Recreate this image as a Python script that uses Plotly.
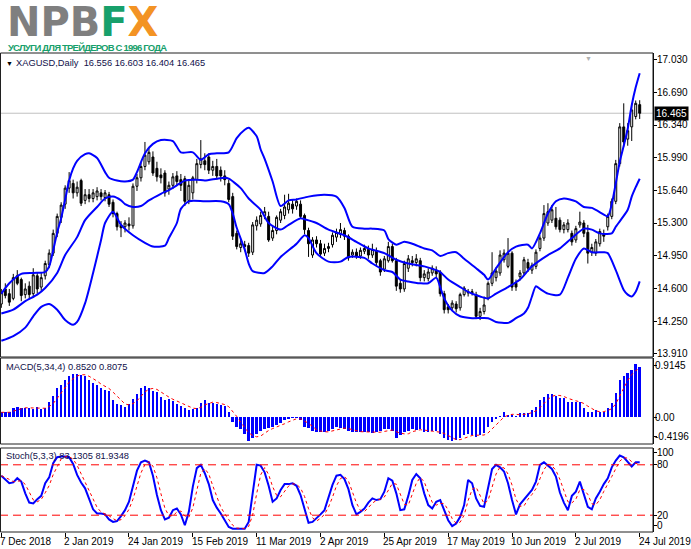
import plotly.graph_objects as go
import pandas as pd

W, H = 691, 549

# ---------------- data ----------------
tick_index = [0, 16, 32, 48, 64, 80, 96, 112, 128, 144, 160]
tick_labels = ["7 Dec 2018", "2 Jan 2019", "24 Jan 2019", "15 Feb 2019", "11 Mar 2019",
               "2 Apr 2019", "25 Apr 2019", "17 May 2019", "10 Jun 2019", "2 Jul 2019", "24 Jul 2019"]

price_ticks = [17.03, 16.69, 16.34, 15.99, 15.64, 15.30, 14.95, 14.60, 14.25, 13.91]

opens = [14.44, 14.60, 14.55, 14.50, 14.74, 14.70, 14.54, 14.63, 14.55, 14.74,
         14.62, 14.74, 14.86, 14.98, 15.19, 15.36, 15.50, 15.67, 15.72, 15.62,
         15.75, 15.54, 15.60, 15.56, 15.58, 15.62, 15.57, 15.60, 15.52, 15.40,
         15.28, 15.26, 15.29, 15.27, 15.69, 15.78, 15.90, 15.95, 16.00, 15.88,
         15.81, 15.83, 15.66, 15.70, 15.80, 15.76, 15.77, 15.54, 15.62, 15.76,
         15.92, 15.96, 16.00, 15.86, 15.90, 15.86, 15.80, 15.72, 15.58, 15.19,
         15.04, 15.07, 15.06, 14.99, 15.27, 15.29, 15.38, 15.37, 15.14, 15.22,
         15.33, 15.38, 15.44, 15.50, 15.48, 15.50, 15.38, 15.22, 14.96, 15.12,
         15.08, 14.98, 15.03, 15.07, 15.15, 15.18, 15.22, 15.16, 14.96, 14.99,
         14.95, 15.00, 15.02, 14.96, 15.00, 14.90, 14.81, 14.90, 15.05, 14.90,
         14.66, 14.60, 14.82, 14.90, 14.88, 14.90, 14.72, 14.71, 14.77, 14.80,
         14.78, 14.55, 14.41, 14.40, 14.44, 14.40, 14.54, 14.57, 14.56, 14.54,
         14.31, 14.36, 14.50, 14.66, 14.72, 14.77, 14.91, 14.84, 14.98, 14.66,
         14.73, 14.77, 14.88, 14.80, 14.84, 15.03, 15.14, 15.30, 15.33, 15.35,
         15.33, 15.23, 15.23, 15.19, 15.12, 15.28, 15.30, 15.20, 14.99, 14.98,
         15.08, 15.18, 15.26, 15.37, 15.53, 15.93, 16.32, 16.19, 16.32, 16.43,
         16.556]
highs = [14.60, 14.66, 14.60, 14.76, 14.80, 14.72, 14.66, 14.68, 14.82, 14.78,
         14.78, 14.90, 15.02, 15.23, 15.40, 15.52, 15.70, 15.84, 15.76, 15.74,
         15.77, 15.66, 15.66, 15.66, 15.68, 15.66, 15.65, 15.63, 15.55, 15.42,
         15.32, 15.33, 15.36, 15.72, 15.82, 15.94, 16.16, 16.10, 16.06, 15.95,
         15.88, 15.86, 15.74, 15.83, 15.85, 15.82, 15.80, 15.76, 15.80, 15.98,
         16.18, 16.04, 16.04, 15.96, 15.98, 15.90, 15.86, 15.76, 15.62, 15.22,
         15.12, 15.11, 15.09, 15.31, 15.37, 15.42, 15.47, 15.42, 15.26, 15.38,
         15.45, 15.60, 15.61, 15.55, 15.56, 15.54, 15.40, 15.25, 15.15, 15.16,
         15.12, 15.08, 15.09, 15.20, 15.24, 15.30, 15.25, 15.18, 15.02, 15.03,
         15.04, 15.07, 15.06, 15.08, 15.04, 14.92, 14.95, 15.10, 15.08, 14.93,
         14.70, 14.90, 14.96, 14.95, 14.97, 14.93, 14.80, 14.82, 14.85, 14.84,
         14.80, 14.58, 14.44, 14.48, 14.47, 14.56, 14.63, 14.60, 14.60, 14.57,
         14.40, 14.52, 14.68, 14.99, 14.83, 15.01, 15.02, 15.14, 15.00, 14.70,
         14.80, 14.94, 14.92, 14.88, 15.02, 15.17, 15.49, 15.51, 15.49, 15.47,
         15.36, 15.31, 15.34, 15.22, 15.27, 15.42, 15.33, 15.28, 15.08, 15.13,
         15.24, 15.23, 15.40, 15.56, 15.97, 16.36, 16.57, 16.36, 16.57, 16.60,
         16.603]
lows = [14.40, 14.50, 14.42, 14.48, 14.64, 14.47, 14.50, 14.50, 14.52, 14.55,
        14.58, 14.70, 14.82, 14.95, 15.15, 15.30, 15.45, 15.62, 15.56, 15.58,
        15.48, 15.50, 15.52, 15.52, 15.54, 15.54, 15.53, 15.47, 15.36, 15.22,
        15.15, 15.20, 15.22, 15.24, 15.64, 15.74, 15.86, 15.92, 15.80, 15.74,
        15.72, 15.58, 15.60, 15.66, 15.70, 15.64, 15.48, 15.50, 15.55, 15.72,
        15.88, 15.86, 15.82, 15.80, 15.76, 15.74, 15.70, 15.52, 15.12, 15.02,
        14.99, 15.00, 14.94, 14.96, 15.22, 15.26, 15.34, 15.10, 15.11, 15.18,
        15.30, 15.34, 15.40, 15.40, 15.44, 15.35, 15.18, 14.94, 14.93, 15.04,
        14.94, 14.95, 14.99, 15.04, 15.10, 15.14, 15.12, 14.90, 14.93, 14.92,
        14.92, 14.97, 14.92, 14.93, 14.85, 14.74, 14.78, 14.88, 14.88, 14.58,
        14.56, 14.57, 14.78, 14.84, 14.84, 14.68, 14.68, 14.68, 14.74, 14.72,
        14.52, 14.34, 14.34, 14.37, 14.35, 14.37, 14.52, 14.52, 14.53, 14.28,
        14.27, 14.33, 14.48, 14.63, 14.68, 14.74, 14.88, 14.82, 14.58, 14.58,
        14.69, 14.74, 14.78, 14.76, 14.81, 15.00, 15.11, 15.27, 15.30, 15.23,
        15.20, 15.19, 15.20, 15.06, 15.09, 15.25, 15.15, 14.87, 14.95, 14.95,
        15.05, 15.10, 15.22, 15.34, 15.50, 15.90, 16.11, 16.12, 16.17, 16.40,
        16.404]
closes = [14.56, 14.53, 14.46, 14.72, 14.66, 14.53, 14.60, 14.54, 14.75, 14.60,
          14.72, 14.87, 14.98, 15.19, 15.37, 15.49, 15.67, 15.75, 15.62, 15.68,
          15.51, 15.60, 15.56, 15.62, 15.64, 15.58, 15.62, 15.50, 15.40, 15.26,
          15.25, 15.30, 15.27, 15.69, 15.78, 15.90, 16.02, 16.05, 15.83, 15.79,
          15.78, 15.62, 15.70, 15.79, 15.74, 15.70, 15.53, 15.70, 15.78, 15.93,
          15.98, 15.92, 15.86, 15.90, 15.80, 15.80, 15.76, 15.55, 15.16, 15.05,
          15.08, 15.05, 14.98, 15.28, 15.33, 15.38, 15.42, 15.12, 15.22, 15.36,
          15.42, 15.47, 15.51, 15.45, 15.53, 15.37, 15.23, 15.08, 15.12, 15.08,
          14.97, 15.03, 15.05, 15.17, 15.20, 15.23, 15.16, 14.93, 14.99, 14.95,
          15.01, 15.03, 14.96, 15.02, 14.88, 14.78, 14.92, 15.05, 14.90, 14.63,
          14.60, 14.87, 14.92, 14.88, 14.92, 14.72, 14.76, 14.78, 14.82, 14.76,
          14.55, 14.38, 14.38, 14.45, 14.39, 14.54, 14.61, 14.56, 14.57, 14.31,
          14.36, 14.43, 14.66, 14.77, 14.79, 14.96, 14.98, 14.98, 14.62, 14.62,
          14.77, 14.91, 14.82, 14.85, 14.99, 15.14, 15.40, 15.42, 15.44, 15.26,
          15.23, 15.28, 15.30, 15.10, 15.24, 15.31, 15.19, 14.98, 15.04, 15.10,
          15.21, 15.16, 15.37, 15.53, 15.93, 16.32, 16.16, 16.28, 16.50, 16.57,
          16.465]

bb_upper_x = [0, 2, 5, 8, 11, 12, 13, 14, 15, 16, 17, 18, 19, 21, 22, 24, 26, 27, 29, 31,
              33, 34, 36, 38, 40, 43, 45, 48, 50, 52, 54, 57, 59, 61, 62, 64, 65, 66, 68, 70,
              72, 74, 77, 81, 84, 86, 88, 91, 93, 96, 97, 99, 101, 103, 106, 108, 110, 112, 114, 116,
              119, 121, 122, 124, 127, 129, 132, 133, 135, 137, 139, 141, 144, 146, 148, 151, 152, 153, 154, 155,
              156, 157, 158, 159, 160]
bb_upper = [14.55, 14.66, 14.76, 14.77, 14.78, 14.84, 15.01, 15.20, 15.35, 15.55, 15.75, 15.88, 15.96, 16.03, 16.04,
            15.99, 15.84, 15.78, 15.75, 15.74, 15.76, 15.84, 16.04, 16.14, 16.18, 16.17, 16.05, 16.05, 15.97, 16.03,
            16.04, 16.05, 16.20, 16.29, 16.31, 16.22, 16.08, 15.98, 15.74, 15.48, 15.54, 15.55, 15.58, 15.60, 15.58,
            15.46, 15.26, 15.24, 15.24, 15.22, 15.13, 15.07, 15.10, 15.08, 15.03, 15.01, 14.95, 14.98, 14.99, 14.92,
            14.82, 14.75, 14.70, 14.82, 14.99, 15.05, 15.07, 15.03, 15.19, 15.40, 15.53, 15.56, 15.53, 15.47, 15.46,
            15.39, 15.37, 15.50, 15.72, 15.95, 16.12, 16.30, 16.55, 16.74, 16.89]

bb_mid_x = [0, 3, 6, 9, 11, 14, 16, 19, 21, 24, 26, 28, 30, 31, 33, 35, 37, 40, 42, 44,
            46, 49, 51, 54, 56, 57, 60, 62, 65, 67, 70, 72, 75, 76, 79, 82, 86, 89, 92, 96,
            99, 102, 106, 109, 110, 112, 115, 117, 120, 122, 124, 127, 130, 133, 137, 140, 143, 146, 148, 150,
            153, 154, 157, 158, 159, 160]
bb_mid = [14.34, 14.38, 14.47, 14.54, 14.61, 14.77, 14.96, 15.15, 15.33, 15.47, 15.56, 15.58, 15.54, 15.50, 15.47,
          15.48, 15.54, 15.61, 15.65, 15.70, 15.75, 15.76, 15.75, 15.77, 15.78, 15.77, 15.67, 15.56, 15.44, 15.30,
          15.23, 15.28, 15.35, 15.34, 15.30, 15.23, 15.17, 15.10, 15.03, 14.98, 14.91, 14.87, 14.84, 14.80, 14.78,
          14.70, 14.62, 14.57, 14.52, 14.50, 14.55, 14.62, 14.70, 14.84, 14.96, 15.03, 15.14, 15.24, 15.23, 15.19,
          15.19, 15.26, 15.44, 15.58, 15.68, 15.77]

bb_lower_x = [0, 3, 6, 8, 10, 12, 14, 16, 18, 19, 21, 23, 25, 26, 28, 30, 33, 36, 38, 41,
              42, 44, 45, 47, 51, 55, 57, 58, 59, 61, 62, 63, 66, 68, 70, 74, 76, 77, 79, 82,
              85, 87, 91, 93, 96, 98, 100, 102, 105, 107, 109, 110, 111, 113, 115, 118, 122, 124, 127, 129,
              131, 132, 133, 134, 135, 137, 140, 142, 144, 146, 148, 151, 152, 154, 156, 157, 158, 159, 160]
bb_lower = [14.05, 14.10, 14.19, 14.31, 14.41, 14.44, 14.38, 14.27, 14.22, 14.25, 14.45, 14.77, 15.12, 15.30, 15.42,
            15.28, 15.17, 15.09, 15.05, 15.06, 15.14, 15.30, 15.45, 15.53, 15.53, 15.53, 15.50, 15.40, 15.25, 15.02,
            14.87, 14.79, 14.77, 14.84, 14.94, 15.08, 15.17, 15.14, 14.98, 14.89, 14.89, 14.94, 14.93, 14.87, 14.80,
            14.78, 14.70, 14.68, 14.66, 14.66, 14.72, 14.62, 14.50, 14.37, 14.31, 14.29, 14.29, 14.25, 14.24, 14.29,
            14.34, 14.40, 14.52, 14.63, 14.60, 14.55, 14.54, 14.72, 14.92, 15.03, 14.99, 14.99, 14.98, 14.80, 14.59,
            14.54, 14.52, 14.57, 14.68]

macd = [0.085, 0.085, 0.085, 0.164, 0.181, 0.152, 0.152, 0.164, 0.141, 0.170,
        0.141, 0.164, 0.266, 0.368, 0.493, 0.549, 0.634, 0.708, 0.736, 0.731,
        0.719, 0.708, 0.634, 0.578, 0.544, 0.504, 0.470, 0.442, 0.294, 0.226,
        0.204, 0.181, 0.232, 0.317, 0.391, 0.493, 0.532, 0.493, 0.447, 0.425,
        0.351, 0.294, 0.306, 0.277, 0.221, 0.192, 0.164, 0.124, 0.141, 0.164,
        0.249, 0.294, 0.249, 0.238, 0.221, 0.209, 0.198, 0.096, -0.074, -0.159,
        -0.199, -0.290, -0.403, -0.346, -0.290, -0.233, -0.199, -0.176, -0.159, -0.131,
        -0.102, -0.046, -0.029, -0.006, -0.018, -0.046, -0.159, -0.188, -0.233, -0.256,
        -0.256, -0.244, -0.233, -0.199, -0.159, -0.176, -0.199, -0.233, -0.244, -0.244,
        -0.256, -0.244, -0.256, -0.273, -0.256, -0.233, -0.199, -0.199, -0.233, -0.346,
        -0.301, -0.244, -0.233, -0.199, -0.216, -0.199, -0.256, -0.256, -0.233, -0.233,
        -0.290, -0.346, -0.386, -0.403, -0.386, -0.346, -0.301, -0.290, -0.301, -0.329,
        -0.301, -0.273, -0.159, -0.074, -0.029, 0.028, 0.096, 0.039, 0.039, 0.028,
        0.067, 0.067, 0.067, 0.124, 0.181, 0.294, 0.351, 0.391, 0.391, 0.368,
        0.334, 0.323, 0.266, 0.266, 0.266, 0.255, 0.152, 0.084, 0.084, 0.124,
        0.084, 0.096, 0.164, 0.238, 0.419, 0.634, 0.708, 0.750, 0.810, 0.9145,
        0.852]

stoch_k = [67, 63, 58, 59, 64, 60, 46, 35, 34, 39,
           43, 58, 65, 82, 89, 90, 90, 89, 81, 68,
           59, 52, 39, 27, 22, 22, 21, 15, 12, 13,
           19, 26, 36, 55, 73, 83, 85, 83, 67, 44,
           26, 15, 17, 26, 28, 21, 8, 24, 54, 76,
           80, 70, 57, 38, 29, 22, 14, 6, 4, 4,
           4, 4, 12, 45, 80, 79, 71, 55, 36, 40,
           50, 57, 57, 58, 55, 44, 28, 11, 12, 16,
           21, 26, 42, 56, 67, 68, 63, 51, 32, 21,
           24, 28, 35, 40, 38, 39, 48, 64, 61, 46,
           26, 27, 43, 62, 69, 64, 46, 32, 28, 36,
           38, 27, 14, 7, 10, 18, 32, 62, 58, 40,
           31, 30, 52, 75, 80, 77, 72, 58, 38, 21,
           33, 39, 45, 50, 60, 80, 83, 79, 75, 66,
           47, 35, 26, 43, 48, 60, 44, 30, 27, 40,
           48, 57, 64, 77, 85, 91, 89, 84, 78, 83,
           83.13]

macd_labels = ["0.9145", "0.00", "-0.4196"]
stoch_labels = ["100", "80", "20", "0"]

# MT4 indicator definitions: MACD signal = SMA(4) of MACD, Stoch %D = SMA(3) of %K
macd_signal = pd.Series(macd).rolling(4, min_periods=1).mean()
stoch_d = pd.Series(stoch_k).rolling(3, min_periods=1).mean()

idx = list(range(len(closes)))

# ---------------- layout helpers ----------------
def py(p):
    return 1 - p / H

def px(p):
    return p / W

X_RIGHT = 653
xdom = [0, px(X_RIGHT)]
xrange_ = [-0.33, (X_RIGHT - 1.3) / 3.99]
main_dom = [py(357), py(53)]
macd_dom = [py(444), py(358)]
stoch_dom = [py(532), py(448)]

FONT = "Liberation Sans, Arial, sans-serif"
BLUE = "#0000ff"
TXT = "#10104a"

fig = go.Figure()

fig.add_trace(go.Candlestick(
    x=idx, open=opens, high=highs, low=lows, close=closes,
    increasing=dict(line=dict(color="black", width=1), fillcolor="white"),
    decreasing=dict(line=dict(color="black", width=1), fillcolor="black"),
    whiskerwidth=0, xaxis="x", yaxis="y", hoverinfo="skip", showlegend=False))

for bx, by in [(bb_upper_x, bb_upper), (bb_mid_x, bb_mid), (bb_lower_x, bb_lower)]:
    fig.add_trace(go.Scatter(x=bx, y=by, mode="lines",
                             line=dict(color=BLUE, width=2, shape="spline", smoothing=0.7),
                             xaxis="x", yaxis="y", hoverinfo="skip", showlegend=False))

fig.add_trace(go.Bar(x=idx, y=macd, width=0.62, marker=dict(color=BLUE, line=dict(width=0)),
                     xaxis="x2", yaxis="y2", hoverinfo="skip", showlegend=False))
fig.add_trace(go.Scatter(x=idx, y=macd_signal, mode="lines",
                         line=dict(color="red", width=1, dash="dot"),
                         xaxis="x2", yaxis="y2", hoverinfo="skip", showlegend=False))

fig.add_trace(go.Scatter(x=idx, y=stoch_k, mode="lines", line=dict(color=BLUE, width=2),
                         xaxis="x3", yaxis="y3", hoverinfo="skip", showlegend=False))
fig.add_trace(go.Scatter(x=idx, y=stoch_d, mode="lines", line=dict(color="red", width=1, dash="dot"),
                         xaxis="x3", yaxis="y3", hoverinfo="skip", showlegend=False))

axis_common = dict(showgrid=False, zeroline=False, fixedrange=True)
lab_font = dict(family=FONT, size=10, color="black")

shapes = []
# last price line
shapes.append(dict(type="line", xref="x", yref="y", x0=xrange_[0], x1=xrange_[1],
                   y0=closes[-1], y1=closes[-1], line=dict(color="#c0c0c0", width=1), layer="below"))
# stochastic levels
for lv in (20, 80):
    shapes.append(dict(type="line", xref="paper", yref="y3", x0=0, x1=px(X_RIGHT), y0=lv, y1=lv,
                       line=dict(color="red", width=1, dash="8px,5px")))
# panel frames
for d in (main_dom, macd_dom, stoch_dom):
    shapes.append(dict(type="rect", xref="paper", yref="paper", x0=px(0.5), x1=px(X_RIGHT),
                       y0=d[0], y1=d[1], line=dict(color="#202020", width=1)))

annotations = []
# logo
annotations.append(dict(
    xref="paper", yref="paper", x=px(5), y=py(22), xanchor="left", yanchor="middle",
    height=32, valign="middle",
    text="<b><span style='color:#7f7f7f'>NPB</span><span style='color:#17a06b'>F</span>"
         "<span style='color:#f39324'>X</span></b>",
    showarrow=False, font=dict(family="DejaVu Sans, Liberation Sans", size=40)))
annotations.append(dict(
    xref="paper", yref="paper", x=px(6), y=py(47.5), xanchor="left", yanchor="middle",
    text="<b><span style='letter-spacing:-0.8px'>УСЛУГИ ДЛЯ ТРЕЙДЕРОВ С 1996 ГОДА</span></b>",
    showarrow=False,
    font=dict(family="Liberation Sans Narrow, Liberation Sans", size=9.5, color="#17a06b")))
# header
annotations.append(dict(xref="paper", yref="paper", x=px(4), y=py(63), xanchor="left", yanchor="middle",
                        text="▼", showarrow=False, font=dict(family=FONT, size=7, color="black")))
annotations.append(dict(xref="paper", yref="paper", x=px(14), y=py(63), xanchor="left", yanchor="middle",
                        text="XAGUSD,Daily  16.556 16.603 16.404 16.465", showarrow=False,
                        font=dict(family=FONT, size=9.3, color=TXT)))
annotations.append(dict(xref="paper", yref="paper", x=px(588), y=py(53), xanchor="center", yanchor="top",
                        text="▼", showarrow=False, font=dict(family=FONT, size=7, color="#b0b0b0")))
# indicator labels
annotations.append(dict(xref="paper", yref="paper", x=px(4), y=py(367), xanchor="left", yanchor="middle",
                        text="MACD(5,34,4) 0.8520 0.8075", showarrow=False,
                        font=dict(family=FONT, size=9.3, color=TXT)))
annotations.append(dict(xref="paper", yref="paper", x=px(4), y=py(456), xanchor="left", yanchor="middle",
                        text="Stoch(5,3,3) 83.1305 81.9348", showarrow=False,
                        font=dict(family=FONT, size=9.3, color=TXT)))
# right-hand scale labels
LX = px(X_RIGHT + 3)
for v in price_ticks:
    annotations.append(dict(xref="paper", yref="y", x=LX, y=v, xanchor="left", yanchor="middle",
                            text=f"{v:.3f}", showarrow=False, font=lab_font, borderpad=0))
for v, t in zip([0.889, 0.0, -0.318], macd_labels):
    annotations.append(dict(xref="paper", yref="y2", x=px(X_RIGHT + 1), y=v, xanchor="left", yanchor="middle",
                            text=t, showarrow=False, font=lab_font, borderpad=0))
for v, t in zip([95, 80, 20, 8], stoch_labels):
    annotations.append(dict(xref="paper", yref="y3", x=LX, y=v, xanchor="left", yanchor="middle",
                            text=t, showarrow=False, font=lab_font, borderpad=0))
# current price box
annotations.append(dict(xref="paper", yref="y", x=px(X_RIGHT + 1), y=closes[-1], xanchor="left", yanchor="middle",
                        text="16.465", showarrow=False, bgcolor="black", borderpad=1,
                        font=dict(family=FONT, size=10, color="white")))
# x labels
for ti, tl in zip(tick_index, tick_labels):
    annotations.append(dict(xref="x3", yref="paper", x=ti, y=py(541), xanchor="left", yanchor="middle",
                            xshift=-2, text=tl, showarrow=False, font=lab_font, borderpad=0))

yax_common = dict(side="right", ticks="outside", ticklen=3, tickcolor="black", showticklabels=False,
                  showline=True, linecolor="black", linewidth=1, **axis_common)

fig.update_layout(
    width=W, height=H, autosize=False,
    margin=dict(l=0, r=0, t=0, b=0, pad=0),
    paper_bgcolor="white", plot_bgcolor="white",
    showlegend=False, boxgap=0.3, bargap=0,
    xaxis=dict(domain=xdom, range=xrange_, anchor="y", showticklabels=False,
               rangeslider=dict(visible=False), **axis_common),
    xaxis2=dict(domain=xdom, range=xrange_, anchor="y2", matches="x", showticklabels=False, **axis_common),
    xaxis3=dict(domain=xdom, range=xrange_, anchor="y3", matches="x", showticklabels=False,
                tickvals=tick_index, ticks="outside", ticklen=4, tickcolor="black", **axis_common),
    yaxis=dict(domain=main_dom, range=[13.878, 17.104], anchor="x", tickvals=price_ticks, **yax_common),
    yaxis2=dict(domain=macd_dom, range=[-0.454, 1.0085], anchor="x2", tickvals=[0.889, 0.0, -0.318], **yax_common),
    yaxis3=dict(domain=stoch_dom, range=[0, 100], anchor="x3", tickvals=[95, 80, 20, 8], **yax_common),
    shapes=shapes, annotations=annotations,
)

fig.write_html("out.html", config={"displayModeBar": False, "staticPlot": True},
               post_script="document.body.style.margin='0px';document.body.style.overflow='hidden';")
